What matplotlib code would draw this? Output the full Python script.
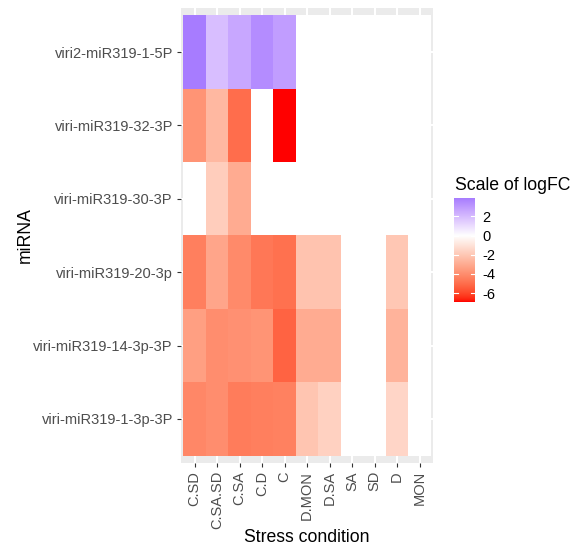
import numpy as np
import matplotlib
matplotlib.use("Agg")
import matplotlib.pyplot as plt
from matplotlib.colors import ListedColormap, Normalize

plt.rcParams['font.family'] = ['Liberation Sans', 'DejaVu Sans']

# ---------------- data ----------------
conditions = ["C.SD", "C.SA.SD", "C.SA", "C.D", "C", "D.MON", "D.SA", "SA", "SD", "D", "MON"]
mirnas = ["viri-miR319-1-3p-3P", "viri-miR319-14-3p-3P", "viri-miR319-20-3p",
          "viri-miR319-30-3P", "viri-miR319-32-3P", "viri2-miR319-1-5P"]  # bottom -> top

logfc_1_3p  = [-4.2, -4.0, -4.55, -4.45, -4.4, -2.1, -1.65, 0.0, 0.0, -1.5, 0.0]
logfc_14_3p = [-3.4, -4.0, -3.9, -3.8, -5.3, -3.0, -3.0, 0.0, 0.0, -2.7, 0.0]
logfc_20_3p = [-4.45, -3.2, -4.1, -4.7, -4.9, -2.15, -2.15, 0.0, 0.0, -2.0, 0.0]
logfc_30_3p = [0.0, -1.8, -3.0, 0.0, 0.0, 0.0, 0.0, 0.0, 0.0, 0.0, 0.0]
logfc_32_3p = [-3.8, -2.55, -5.0, 0.0, -6.9, 0.0, 0.0, 0.0, 0.0, 0.0, 0.0]
logfc_v2_5p = [3.9, 1.9, 2.6, 3.4, 2.9, 0.0, 0.0, 0.0, 0.0, 0.0, 0.0]

legend_ticks = [2, 0, -2, -4, -6]

data = np.array([logfc_1_3p, logfc_14_3p, logfc_20_3p, logfc_30_3p, logfc_32_3p, logfc_v2_5p])
vmin, vmax = data.min(), data.max()
mabs = max(abs(vmin), abs(vmax))

# ---------------- Lab-interpolated gradient (red - white - blue) ----------------
_M = np.array([[0.4124564, 0.3575761, 0.1804375],
               [0.2126729, 0.7151522, 0.0721750],
               [0.0193339, 0.1191920, 0.9503041]])
_W = np.array([0.95047, 1.0, 1.08883])

def rgb2lab(c):
    c = np.asarray(c, float)
    lin = np.where(c <= 0.04045, c / 12.92, ((c + 0.055) / 1.055) ** 2.4)
    t = (_M @ lin) / _W
    f = np.where(t > 0.008856, np.cbrt(t), 7.787 * t + 16 / 116)
    return np.array([116 * f[1] - 16, 500 * (f[0] - f[1]), 200 * (f[1] - f[2])])

def lab2rgb(lab):
    L, a, b = lab
    fy = (L + 16) / 116
    fx = fy + a / 500
    fz = fy - b / 200
    f = np.array([fx, fy, fz])
    t = np.where(f ** 3 > 0.008856, f ** 3, (f - 16 / 116) / 7.787)
    xyz = t * _W
    lin = np.linalg.solve(_M, xyz)
    lin = np.clip(lin, 0, 1)
    c = np.where(lin <= 0.0031308, 12.92 * lin, 1.055 * lin ** (1 / 2.4) - 0.055)
    return np.clip(c, 0, 1)

low, mid, high = rgb2lab([1, 0, 0]), rgb2lab([1, 1, 1]), rgb2lab([0, 0, 1])
N = 512
cols = []
for s in np.linspace(0, 1, N):
    if s < 0.5:
        u = s / 0.5
        lab = low + (mid - low) * u
    else:
        u = (s - 0.5) / 0.5
        lab = mid + (high - mid) * u
    cols.append(lab2rgb(lab))
cmap = ListedColormap(cols)
norm = Normalize(vmin=-mabs, vmax=mabs)

# ---------------- figure ----------------
W, H = 571, 551
fig = plt.figure(figsize=(W / 100, H / 100), dpi=100)

def fx(px): return px / W
def fy(py): return 1 - py / H

ax = fig.add_axes([fx(181), fy(463), (433 - 181) / W, (463 - 8) / H])
ax.set_facecolor('#EBEBEB')
for s in ax.spines.values():
    s.set_visible(False)

nx, ny = len(conditions), len(mirnas)
ax.set_xticks(np.arange(1, nx + 1))
ax.set_yticks(np.arange(1, ny + 1))
ax.grid(True, color='white', linewidth=1.45, zorder=0)
ax.set_axisbelow(True)

ax.pcolormesh(np.arange(nx + 1) + 0.5, np.arange(ny + 1) + 0.5, data,
              cmap=cmap, norm=norm, shading='flat', antialiased=False,
              edgecolors='none', zorder=2)

ax.set_xlim(0.4, nx + 0.6)
ax.set_ylim(0.4, ny + 0.6)
ax.set_xticklabels(conditions, rotation=90, fontsize=10.5, color='#4D4D4D')
ax.set_yticklabels(mirnas, fontsize=10.5, color='#4D4D4D')
ax.tick_params(axis='both', length=3.2, width=0.8, color='#333333', pad=2.6)

fig.text(fx(25), fy(235.5), "miRNA", rotation=90, ha='center', va='center',
         fontsize=12.7, color='black')
fig.text(fx(307), fy(538), "Stress condition", ha='center', va='center',
         fontsize=12.7, color='black')

# ---------------- legend (colourbar) ----------------
cax = fig.add_axes([fx(454), fy(301.7), 20.7 / W, 103.4 / H])
grad = np.linspace(vmin, vmax, 300).reshape(-1, 1)
cax.imshow(grad, cmap=cmap, norm=norm, aspect='auto', origin='lower',
           extent=[0, 1, vmin, vmax], interpolation='bilinear')
cax.set_xlim(0, 1)
cax.set_ylim(vmin, vmax)
for s in cax.spines.values():
    s.set_visible(False)
cax.set_xticks([])
for v in legend_ticks:
    cax.plot([0, 0.2], [v, v], color='white', lw=0.8)
    cax.plot([0.8, 1], [v, v], color='white', lw=0.8)
cax.yaxis.tick_right()
cax.set_yticks(legend_ticks)
cax.set_yticklabels([str(v) for v in legend_ticks], fontsize=10.5, color='black')
cax.tick_params(axis='y', length=0, pad=5.2)

fig.text(fx(455), fy(190), "Scale of logFC", ha='left', va='baseline',
         fontsize=12.7, color='black')

fig.savefig("out.png", dpi=100, facecolor='white')
